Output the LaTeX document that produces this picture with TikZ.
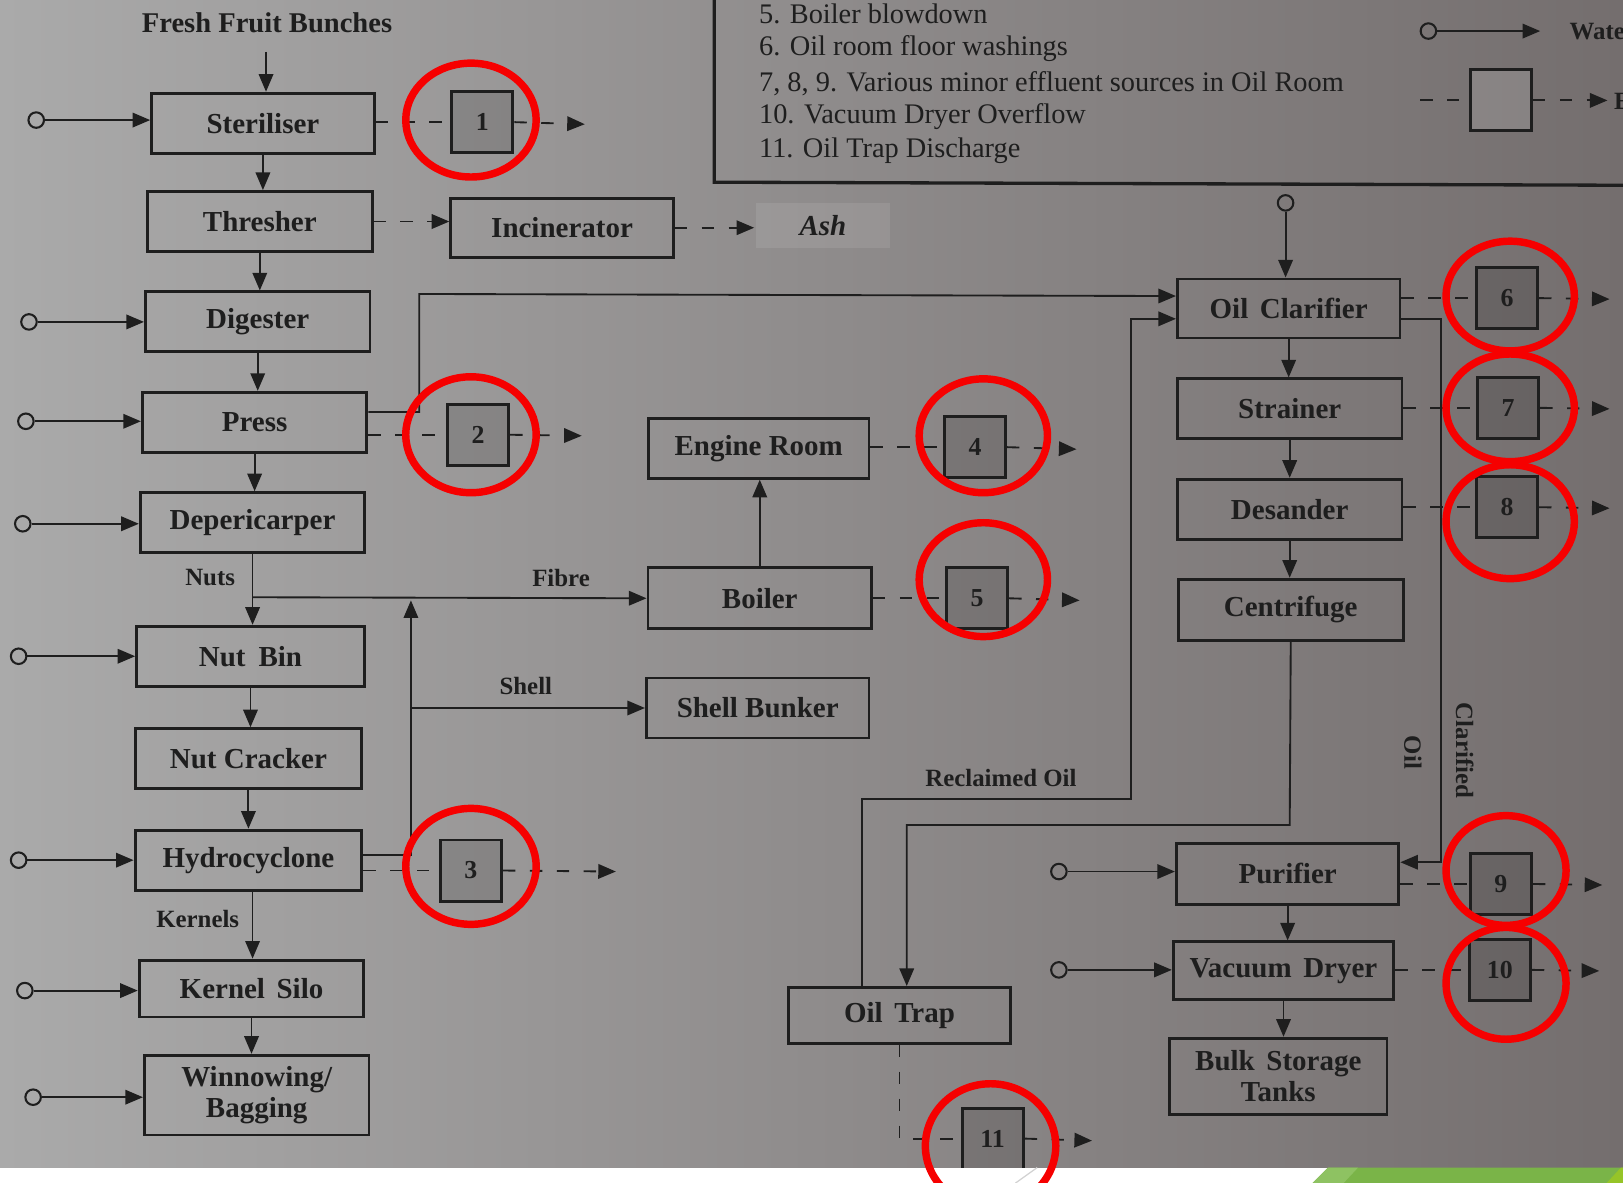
\documentclass[tikz,border=0pt]{standalone}
\usepackage{fontspec}
\setmainfont{Liberation Serif}
\usetikzlibrary{arrows.meta}
\definecolor{ink}{RGB}{30,30,30}
\definecolor{bgL}{RGB}{170,170,170}
\definecolor{bgR}{RGB}{116,110,110}
\definecolor{redc}{RGB}{246,0,0}
\definecolor{grn}{RGB}{122,180,72}
\definecolor{grnL}{RGB}{142,194,98}
\definecolor{grnY}{RGB}{150,196,40}
\begin{document}
\begin{tikzpicture}[x=0.5pt,y=-0.5pt,
  box/.style={draw=ink, line width=1.4pt, minimum width=108.5pt, minimum height=29pt, inner sep=0pt, text=ink, font=\bfseries\fontsize{14}{15}\selectfont, align=center},
  effbox/.style={draw=ink, line width=1.4pt, fill=black, fill opacity=0.13, text opacity=1, minimum size=29.5pt, inner sep=0pt, text=ink, font=\bfseries\fontsize{12.5}{14}\selectfont},
  wcirc/.style={circle, draw=ink, line width=1pt, minimum size=7.5pt, inner sep=0pt},
  conn/.style={draw=ink, line width=0.9pt},
  arr/.style={conn, -{Triangle[length=8.5pt,width=7pt]}},
  dsh/.style={conn, dash pattern=on 6pt off 7pt},
  darr/.style={dsh, -{Triangle[length=8.5pt,width=7pt]}},
  lab/.style={text=ink, font=\bfseries\fontsize{12}{13}\selectfont, inner sep=0pt},
  legtext/.style={text=ink, font=\fontsize{13.7}{15}\selectfont, inner sep=0pt, anchor=west},
  ring/.style={draw=redc, line width=3.6pt}
]
\useasboundingbox (0,0) rectangle (1568,1142);
\clip (0,0) rectangle (1568,1142);
% background
\shade[left color=bgL, right color=bgR] (0,-2) rectangle (1568,1130);

% legend frame
\draw[ink, line width=1.6pt] (690,-10) -- (690,176) -- (1580,179);
\node[legtext] (l5) at (733,13) {5. Boiler blowdown};
\node[legtext] (l6) at (733,47) {6. Oil room floor washings};
\node[legtext] (l7) at (733,81) {7, 8, 9. Various minor effluent sources in Oil Room};
\node[legtext] (l10) at (733,113) {10. Vacuum Dryer Overflow};
\node[legtext] (l11) at (733,146) {11. Oil Trap Discharge};
\node[wcirc] (lw) at (1380,30) {};
\coordinate (lwt) at (1488,30);
\draw[arr] (lw) -- (lwt);
\node[lab, anchor=west] (lwtext) at (1516,30) {Water};
\node[effbox, fill=white, fill opacity=0.12] (lsq) at (1450,97) {};
\coordinate (lsqa) at (1372,97);
\coordinate (lsqb) at (1553,97);
\draw[dsh] (lsqa) -- (lsq.west);
\draw[darr] (lsq.east) -- (lsqb);
\node[lab, anchor=west] (letext) at (1559,97) {Effluent};

% title
\node[lab, font=\bfseries\fontsize{13.8}{15}\selectfont] (ffb) at (258,22) {Fresh Fruit Bunches};
\coordinate (ffbt) at (257,50);

% left column
\node[box, minimum width=107.5pt] (ster) at (254,119) {Steriliser};
\node[box] (thr) at (251,214) {Thresher};
\node[box] (dig) at (249,311) {Digester};
\node[box] (press) at (246,408) {Press};
\node[box] (dep) at (244,505) {Depericarper};
\node[box, minimum width=110pt] (nutbin) at (242,634) {Nut\hspace{0.45em}Bin};
\node[box, minimum width=109.5pt] (nutcr) at (240,733) {Nut Cracker};
\node[box, minimum width=109.5pt] (hydro) at (240,831) {Hydrocyclone};
\node[box, minimum height=27.5pt] (ksilo) at (243,955) {Kernel\hspace{0.4em}Silo};
\node[box, minimum height=38.5pt] (winn) at (248,1058) {Winnowing/\\Bagging};

% middle
\node[box, minimum width=107.5pt, minimum height=28.5pt] (incin) at (543,220) {Incinerator};
\node[box, draw=none, fill=white, fill opacity=0.09, text opacity=1, minimum width=65pt, minimum height=21.5pt, font=\bfseries\itshape\fontsize{14}{15}\selectfont] (ash) at (795,218) {Ash};
\node[box, minimum width=106.5pt] (engine) at (733,433) {Engine Room};
\node[box, minimum width=108pt, minimum height=29.5pt] (boiler) at (734,578) {Boiler};
\node[box, minimum width=107.5pt] (shellb) at (732,684) {Shell Bunker};
\node[box, minimum width=107pt, minimum height=27pt] (oiltrap) at (869,981) {Oil\hspace{0.4em}Trap};

% right column
\node[box, minimum width=107.5pt, minimum height=28.5pt] (oilc) at (1245,298) {Oil\hspace{0.4em}Clarifier};
\node[box] (strainer) at (1246,395) {Strainer};
\node[box] (desander) at (1246,492) {Desander};
\node[box, minimum height=29.5pt] (centri) at (1247,589) {Centrifuge};
\node[box, minimum width=107.5pt, minimum height=29.5pt] (purifier) at (1244,844) {Purifier};
\node[box, minimum width=106.5pt, minimum height=28pt] (vdryer) at (1240,938) {Vacuum\hspace{0.4em}Dryer};
\node[box, minimum width=105pt, minimum height=37pt] (bulk) at (1235,1040) {Bulk\hspace{0.4em}Storage\\Tanks};

% effluent squares
\node[effbox] (e1) at (466,118) {1};
\node[effbox] (e2) at (462,420) {2};
\node[effbox] (e3) at (455,841) {3};
\node[effbox] (e4) at (942,432) {4};
\node[effbox] (e5) at (944,578) {5};
\node[effbox] (e6) at (1456,288) {6};
\node[effbox] (e7) at (1457,394) {7};
\node[effbox] (e8) at (1456,490) {8};
\node[effbox] (e9) at (1450,854) {9};
\node[effbox] (e10) at (1449,937) {10};
\node[effbox] (e11) at (959,1100) {11};
\coordinate (a1) at (565,120);
\coordinate (a2) at (562,421);
\coordinate (a3) at (595,842);
\coordinate (a4) at (1040,434);
\coordinate (a5) at (1043,580);
\coordinate (a6) at (1555,289);
\coordinate (a7) at (1555,395);
\coordinate (a8) at (1555,491);
\coordinate (a9) at (1548,855);
\coordinate (a10) at (1545,938);
\coordinate (a11) at (1055,1102);

% water inputs
\node[wcirc] (ws) at (35,116) {};
\node[wcirc] (wd) at (28,311) {};
\node[wcirc] (wp) at (25,407) {};
\node[wcirc] (wdep) at (22,506) {};
\node[wcirc] (wn) at (18,634) {};
\node[wcirc] (wh) at (18,831) {};
\node[wcirc] (wk) at (24,957) {};
\node[wcirc] (ww) at (32,1060) {};
\node[wcirc] (woc) at (1242,196) {};
\node[wcirc] (wpu) at (1023,842) {};
\node[wcirc] (wvd) at (1023,937) {};
\draw[arr] (ws) -- (ws -| ster.west);
\draw[arr] (wd) -- (wd -| dig.west);
\draw[arr] (wp) -- (wp -| press.west);
\draw[arr] (wdep) -- (wdep -| dep.west);
\draw[arr] (wn) -- (wn -| nutbin.west);
\draw[arr] (wh) -- (wh -| hydro.west);
\draw[arr] (wk) -- (wk -| ksilo.west);
\draw[arr] (ww) -- (ww -| winn.west);
\draw[arr] (woc) -- (woc |- oilc.north);
\draw[arr] (wpu) -- (wpu -| purifier.west);
\draw[arr] (wvd) -- (wvd -| vdryer.west);

% main flow left column
\draw[arr] (ffbt) -- (ffbt |- ster.north);
\draw[arr] (ster.south) -- (ster.south |- thr.north);
\draw[arr] (thr.south) -- (thr.south |- dig.north);
\draw[arr] (dig.south) -- (dig.south |- press.north);
\draw[arr] (press.south) -- (press.south |- dep.north);
\draw[arr] (dep.south) -- (dep.south |- nutbin.north);
\draw[arr] (nutbin.south) -- (nutbin.south |- nutcr.north);
\draw[arr] (nutcr.south) -- (nutcr.south |- hydro.north);
\draw[arr] (hydro.south -| 244,0) -- (244,0 |- ksilo.north);
\draw[arr] (ksilo.south) -- (ksilo.south |- winn.north);

% labels
\node[lab] (lnuts) at (203,558) {Nuts};
\node[lab] (lfibre) at (542,558) {Fibre};
\node[lab] (lshell) at (508,663) {Shell};
\node[lab] (lkern) at (191,888) {Kernels};
\node[lab] (lrec) at (967,752) {Reclaimed Oil};
\node[lab, rotate=-90] (lclar) at (1415,725) {Clarified};
\node[lab, rotate=-90] (loil) at (1365,727) {Oil};

% fibre / shell
\coordinate (fj) at (244,577);
\draw[arr] (fj) -- (boiler.west);
\coordinate (hj) at (397,826);
\coordinate (hup) at (397,580);
\coordinate (sj) at (397,684);
\draw[arr] (hydro.east |- hj) -- (hj) -- (hup);
\draw[arr] (sj) -- (shellb.west);
\draw[arr] (boiler.north) -- (boiler.north |- engine.south);

% thresher -> incinerator -> ash
\draw[darr] (thr.east) -- (thr.east -| incin.west);
\draw[darr] (incin.east) -- (incin.east -| ash.west);

% press -> oil clarifier
\coordinate (pj) at (405,398);
\coordinate (pk) at (405,284);
\draw[arr] (press.east |- pj) -- (pj) -- (pk) -- (oilc.west |- 0,286);

% right column flow
\draw[arr] (oilc.south) -- (oilc.south |- strainer.north);
\draw[arr] (strainer.south) -- (strainer.south |- desander.north);
\draw[arr] (desander.south) -- (desander.south |- centri.north);
\coordinate (cj) at (1246,797);
\coordinate (ck) at (876,797);
\draw[arr] (centri.south) -- (cj) -- (ck) -- (ck |- oiltrap.north);
\coordinate (rj) at (833,772);
\coordinate (rk) at (1093,772);
\coordinate (rl) at (1093,308);
\draw[arr] (rj |- oiltrap.north) -- (rj) -- (rk) -- (rl) -- (oilc.west |- rl);
\coordinate (oj) at (1392,308);
\coordinate (ok) at (1392,833);
\draw[arr] (oilc.east |- oj) -- (oj) -- (ok) -- (purifier.east |- ok);
\draw[arr] (purifier.south) -- (purifier.south |- vdryer.north);
\draw[arr] (vdryer.south) -- (vdryer.south |- bulk.north);

% effluent lines
\draw[dsh] (ster.east |- e1) -- (e1.west);
\draw[dsh] (press.east |- e2) -- (e2.west);
\draw[dsh] (hydro.east |- e3) -- (e3.west);
\draw[dsh] (engine.east |- e4) -- (e4.west);
\draw[dsh] (boiler.east |- e5) -- (e5.west);
\draw[dsh] (oilc.east |- e6) -- (e6.west);
\draw[dsh] (strainer.east |- e7) -- (e7.west);
\draw[dsh] (desander.east |- e8) -- (e8.west);
\draw[dsh] (purifier.east |- e9) -- (e9.west);
\draw[dsh] (vdryer.east |- e10) -- (e10.west);
\draw[dsh] (oiltrap.south) -- (oiltrap.south |- e11) -- (e11.west);
\draw[darr] (e1.east) -- (a1);
\draw[darr] (e2.east) -- (a2);
\draw[darr] (e3.east) -- (a3);
\draw[darr] (e4.east) -- (a4);
\draw[darr] (e5.east) -- (a5);
\draw[darr] (e6.east) -- (a6);
\draw[darr] (e7.east) -- (a7);
\draw[darr] (e8.east) -- (a8);
\draw[darr] (e9.east) -- (a9);
\draw[darr] (e10.east) -- (a10);
\draw[darr] (e11.east) -- (a11);

% slide footer
\fill[white] (0,1128) rectangle (1570,1145);
\draw[gray!35, line width=0.6pt] (981,1143) -- (1002,1128);
\fill[grn] (1268,1143) -- (1283,1128) -- (1570,1128) -- (1570,1143) -- cycle;
\fill[grnL] (1268,1143) -- (1283,1128) -- (1312,1128) -- (1298,1143) -- cycle;
\fill[grnY] (1552,1143) -- (1566,1128) -- (1570,1128) -- (1570,1143) -- cycle;

% red annotation rings
\draw[ring] (455,116) ellipse [x radius=63, y radius=55];
\draw[ring] (455,420) ellipse [x radius=63, y radius=56];
\draw[ring] (455,837) ellipse [x radius=63, y radius=56];
\draw[ring] (950,421) ellipse [x radius=62, y radius=55];
\draw[ring] (950,560) ellipse [x radius=62, y radius=55];
\draw[ring] (1459,286) ellipse [x radius=62, y radius=53];
\draw[ring] (1459,394) ellipse [x radius=62, y radius=52];
\draw[ring] (1459,504) ellipse [x radius=62, y radius=55];
\draw[ring] (1455,841) ellipse [x radius=58, y radius=53];
\draw[ring] (1455,950) ellipse [x radius=58, y radius=54];
\draw[ring] (957,1107) ellipse [x radius=63, y radius=60];
\end{tikzpicture}
\end{document}
